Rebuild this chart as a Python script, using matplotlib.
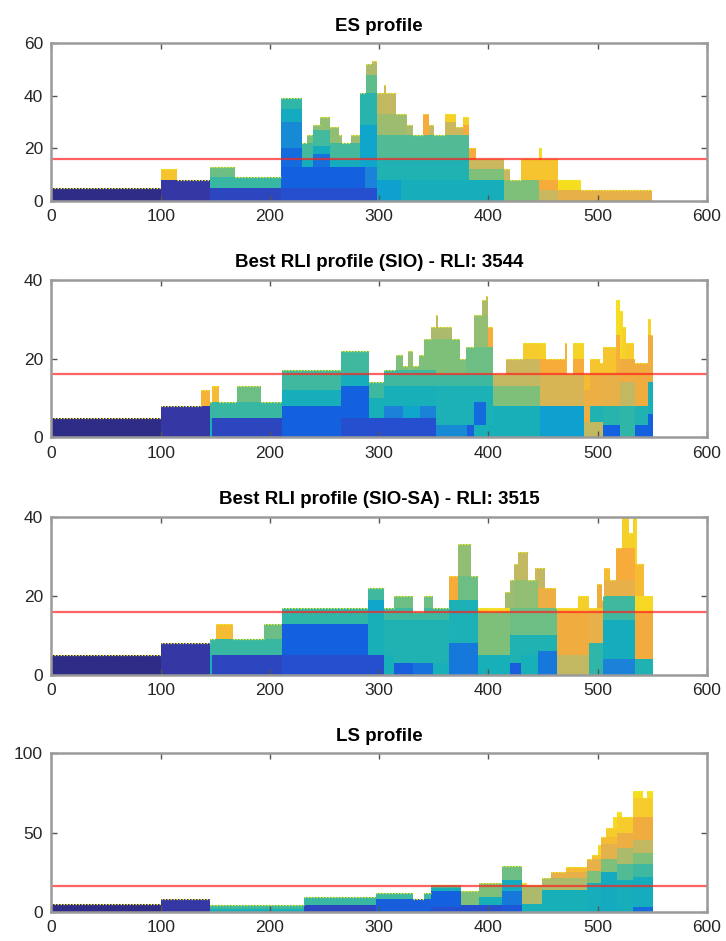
import numpy as np
import matplotlib
matplotlib.use("Agg")
import matplotlib.pyplot as plt
from matplotlib.colors import LinearSegmentedColormap

# ---------------- data ----------------
TITLES = ["ES profile",
          "Best RLI profile (SIO) - RLI: 3544",
          "Best RLI profile (SIO-SA) - RLI: 3515",
          "LS profile"]
Y_LIMITS = [60, 40, 40, 100]
Y_TICKS = [[0, 20, 40, 60], [0, 20, 40], [0, 20, 40], [0, 50, 100]]
X_TICKS = [0, 100, 200, 300, 400, 500, 600]
RESOURCE_LIMIT = 16

# activities: (start, finish, resource usage, colour index 0..1), stacked in list order
ES_ACTS = [
    (0, 100, 5, .00), (100, 145, 8, .05), (145, 210, 5, .08), (210, 298, 5, .10),
    (210, 287, 8, .14), (287, 298, 8, .20), (298, 320, 8, .28), (320, 414, 8, .35),
    (414, 446, 8, .55), (446, 464, 4, .68), (464, 550, 4, .78),
    (100, 115, 4, .90), (145, 210, 4, .44), (210, 229, 7, .16), (239, 255, 5, .17),
    (282, 298, 16, .30), (298, 382, 8, .38), (382, 414, 4, .55), (414, 420, 4, .68),
    (446, 464, 4, .84), (464, 485, 4, .97),
    (145, 168, 4, .52), (210, 229, 10, .22), (229, 282, 3, .34), (282, 298, 12, .40),
    (298, 382, 9, .48), (382, 414, 4, .68), (430, 464, 8, .90),
    (210, 229, 5, .33), (229, 282, 6, .46), (288, 298, 7, .50), (298, 325, 8, .60),
    (325, 331, 4, .62), (340, 346, 8, .84), (346, 350, 4, .66), (360, 370, 5, .68),
    (370, 377, 3, .68), (377, 382, 4, .84), (382, 389, 4, .84),
    (210, 229, 4, .42), (234, 239, 3, .55), (239, 246, 2, .56), (246, 255, 5, .58),
    (255, 263, 6, .58), (263, 266, 3, .60), (274, 282, 3, .60), (288, 298, 4, .62),
    (298, 315, 8, .66), (360, 370, 3, .93), (377, 382, 3, .93), (446, 449, 4, .95),
    (293, 298, 1, .66), (304, 306, 3, .72),
]

SIO_ACTS = [
    (0, 100, 5, .00), (100, 145, 8, .05), (145, 147, 5, .36), (147, 211, 5, .08),
    (211, 265, 8, .14), (265, 352, 5, .10), (352, 380, 3, .22), (380, 387, 3, .13),
    (387, 404, 3, .36), (404, 447, 8, .36), (447, 487, 8, .28), (487, 505, 4, .66),
    (505, 520, 3, .14), (520, 534, 8, .42), (534, 546, 3, .14), (546, 551, 6, .14),
    (137, 145, 4, .86), (145, 211, 4, .44), (211, 265, 4, .35), (265, 291, 8, .14),
    (291, 304, 5, .36), (304, 322, 3, .20), (322, 337, 3, .30), (337, 352, 3, .20),
    (352, 387, 10, .37), (387, 398, 6, .16), (387, 398, 4, .37), (398, 404, 10, .37),
    (404, 447, 5, .55), (447, 487, 8, .72), (493, 505, 4, .38), (505, 520, 5, .40),
    (520, 534, 6, .66), (534, 546, 5, .38), (546, 551, 8, .36),
    (147, 153, 4, .88), (170, 192, 4, .52), (211, 265, 5, .45), (265, 291, 3, .35),
    (291, 304, 4, .45), (304, 352, 5, .36), (352, 404, 3, .45), (404, 447, 3, .66),
    (447, 470, 4, .84), (470, 472, 8, .86), (477, 487, 4, .84), (487, 505, 8, .80),
    (505, 520, 8, .78), (520, 534, 6, .82), (534, 546, 11, .82), (546, 551, 12, .82),
    (265, 291, 6, .45), (304, 352, 4, .45), (352, 374, 9, .55), (374, 379, 4, .55),
    (379, 404, 7, .52), (416, 447, 4, .68), (447, 453, 4, .93), (477, 487, 4, .94),
    (487, 493, 4, .88), (493, 502, 4, .90), (502, 505, 3, .90), (505, 517, 7, .90),
    (517, 520, 10, .85), (520, 523, 12, .95), (523, 526, 8, .93), (526, 533, 4, .92),
    (546, 549, 4, .94),
    (315, 322, 4, .55), (322, 326, 1, .55), (326, 331, 5, .58), (331, 336, 1, .55),
    (336, 341, 4, .55), (341, 352, 8, .55), (352, 367, 3, .62), (387, 400, 8, .58),
    (400, 404, 5, .84), (432, 447, 4, .92), (517, 520, 9, .97),
    (347, 352, 3, .62), (352, 354, 3, .66), (394, 400, 4, .62),
    (398, 400, 1, .70),
]

SIOSA_ACTS = [
    (0, 100, 5, .00), (100, 145, 8, .05), (145, 147, 5, .36), (147, 211, 5, .08),
    (211, 304, 5, .10), (304, 314, 5, .36), (314, 331, 3, .13), (331, 349, 3, .17),
    (349, 364, 3, .36), (364, 390, 8, .18), (390, 420, 5, .36), (420, 430, 3, .13),
    (430, 445, 5, .36), (445, 463, 6, .18), (463, 492, 5, .66), (492, 505, 8, .42),
    (505, 534, 4, .20), (534, 551, 4, .38),
    (145, 211, 4, .44), (211, 290, 8, .14), (290, 304, 11, .36), (304, 314, 9, .38),
    (314, 364, 11, .38), (364, 390, 11, .37), (390, 420, 11, .55), (420, 430, 7, .38),
    (430, 445, 5, .38), (445, 463, 4, .38), (463, 492, 11, .82), (492, 505, 8, .78),
    (505, 534, 10, .34), (534, 551, 12, .83),
    (151, 166, 4, .88), (195, 211, 4, .52), (211, 290, 4, .42), (290, 304, 3, .30),
    (304, 331, 3, .45), (331, 341, 2, .45), (341, 364, 3, .45), (364, 372, 6, .84),
    (372, 390, 6, .52), (390, 420, 1, .95), (420, 463, 7, .52), (463, 492, 1, .92),
    (492, 505, 1, .90), (505, 534, 6, .45), (534, 551, 4, .95),
    (290, 304, 3, .45), (314, 331, 3, .52), (341, 349, 3, .52), (372, 384, 8, .58),
    (415, 420, 4, .60), (420, 423, 7, .60), (423, 445, 7, .58), (445, 462, 5, .80),
    (482, 492, 3, .93), (499, 504, 6, .82), (504, 505, 2, .82), (506, 534, 4, .78),
    (534, 542, 8, .88),
    (423, 427, 4, .66), (427, 436, 7, .66), (443, 445, 3, .70), (445, 452, 5, .66),
    (506, 511, 3, .88), (517, 534, 8, .84), (534, 536, 12, .95),
    (522, 529, 8, .93), (529, 532, 4, .93), (532, 534, 8, .93),
]

LS_ACTS = [
    (0, 100, 5, .00), (100, 145, 8, .05), (145, 231, 2, .36), (231, 297, 4, .08),
    (297, 347, 8, .13), (347, 375, 3, .10), (375, 412, 4, .10), (412, 431, 4, .12),
    (431, 449, 5, .36), (449, 490, 14, .36), (490, 503, 18, .35), (503, 518, 25, .33),
    (518, 532, 20, .35), (532, 551, 3, .16),
    (145, 231, 2, .45), (231, 297, 5, .44), (297, 331, 4, .45), (341, 347, 4, .45),
    (347, 375, 10, .14), (375, 391, 9, .55), (391, 412, 5, .36), (412, 431, 9, .18),
    (431, 449, 12, .62), (449, 490, 7, .62), (490, 503, 8, .55), (503, 518, 8, .55),
    (518, 532, 10, .48), (532, 551, 19, .34),
    (347, 375, 2, .36), (391, 412, 9, .55), (412, 431, 7, .33), (431, 435, 1, .92),
    (457, 490, 4, .78), (490, 503, 7, .78), (503, 518, 10, .76), (518, 532, 10, .62),
    (532, 551, 8, .45),
    (347, 375, 2, .48), (412, 431, 9, .52), (471, 490, 3, .88), (495, 503, 3, .90),
    (503, 518, 4, .88), (518, 532, 10, .80), (532, 551, 7, .55),
    (500, 503, 6, .95), (508, 518, 6, .92), (518, 532, 10, .92), (532, 551, 8, .66),
    (514, 518, 7, .96), (518, 522, 3, .97), (532, 551, 15, .82),
    (532, 551, 12, .92),
    (532, 541, 4, .97), (545, 551, 4, .97),
]

PROFILES = [ES_ACTS, SIO_ACTS, SIOSA_ACTS, LS_ACTS]

# parula-like colour map
PARULA = LinearSegmentedColormap.from_list("parula_like", [
    (0.00, "#2e2c87"), (0.05, "#3538a6"), (0.10, "#2450d0"), (0.14, "#1262e0"),
    (0.20, "#1a82d8"), (0.28, "#0ea2d0"), (0.36, "#17b0b8"), (0.45, "#3db9a0"),
    (0.55, "#7fc07a"), (0.66, "#c4b862"), (0.76, "#e3b24c"), (0.84, "#f6aa3c"),
    (0.92, "#f5cb2b"), (1.00, "#f5e81a")])

# ---------------- drawing ----------------
plt.rcParams["font.family"] = ["Liberation Sans", "DejaVu Sans"]
fig = plt.figure(figsize=(7.26, 9.41), dpi=100)

ax_pos = [  # left, bottom, width, height (figure fraction)
    (0.0708, 0.7864, 0.903, 0.1679),
    (0.0708, 0.5353, 0.903, 0.1672),
    (0.0708, 0.2827, 0.903, 0.1682),
    (0.0708, 0.0311, 0.903, 0.1683),
]
XMAX = 600


def draw_profile(ax, acts):
    top = np.zeros(XMAX)
    for s, e, r, c in acts:
        s, e = int(s), int(e)
        base = top[s:e].copy()
        ax.stairs(base + r, np.arange(s, e + 1), baseline=base, fill=True,
                  color=PARULA(c), lw=0, antialiased=False)
        top[s:e] += r
    # thin yellow edge along the top of the stack (MATLAB bar artefact)
    i = 0
    while i < XMAX:
        j = i
        while j + 1 < XMAX and top[j + 1] == top[i]:
            j += 1
        if top[i] > 0:
            ax.hlines(top[i], i, j + 1, colors="#f2ec2a", lw=0.9,
                      linestyles=(0, (1.2, 1.2)))
        i = j + 1
    return top


for k, ax_rect in enumerate(ax_pos):
    ax = fig.add_axes(ax_rect)
    draw_profile(ax, PROFILES[k])
    ax.axhline(RESOURCE_LIMIT, color="#ff2020", lw=1.6, alpha=0.7)
    ax.set_xlim(0, 600)
    ax.set_ylim(0, Y_LIMITS[k])
    ax.set_xticks(X_TICKS)
    ax.set_yticks(Y_TICKS[k])
    ax.tick_params(direction="in", top=True, right=True, length=4, width=1,
                   color="#555555", labelcolor="#262626", labelsize=12.5, pad=6)
    for sp in ax.spines.values():
        sp.set_color("#9a9a9a")
        sp.set_linewidth(1.8)
    ax.set_title(TITLES[k], fontsize=13.5, fontweight="bold", pad=9)

fig.savefig("out.png", dpi=100)
